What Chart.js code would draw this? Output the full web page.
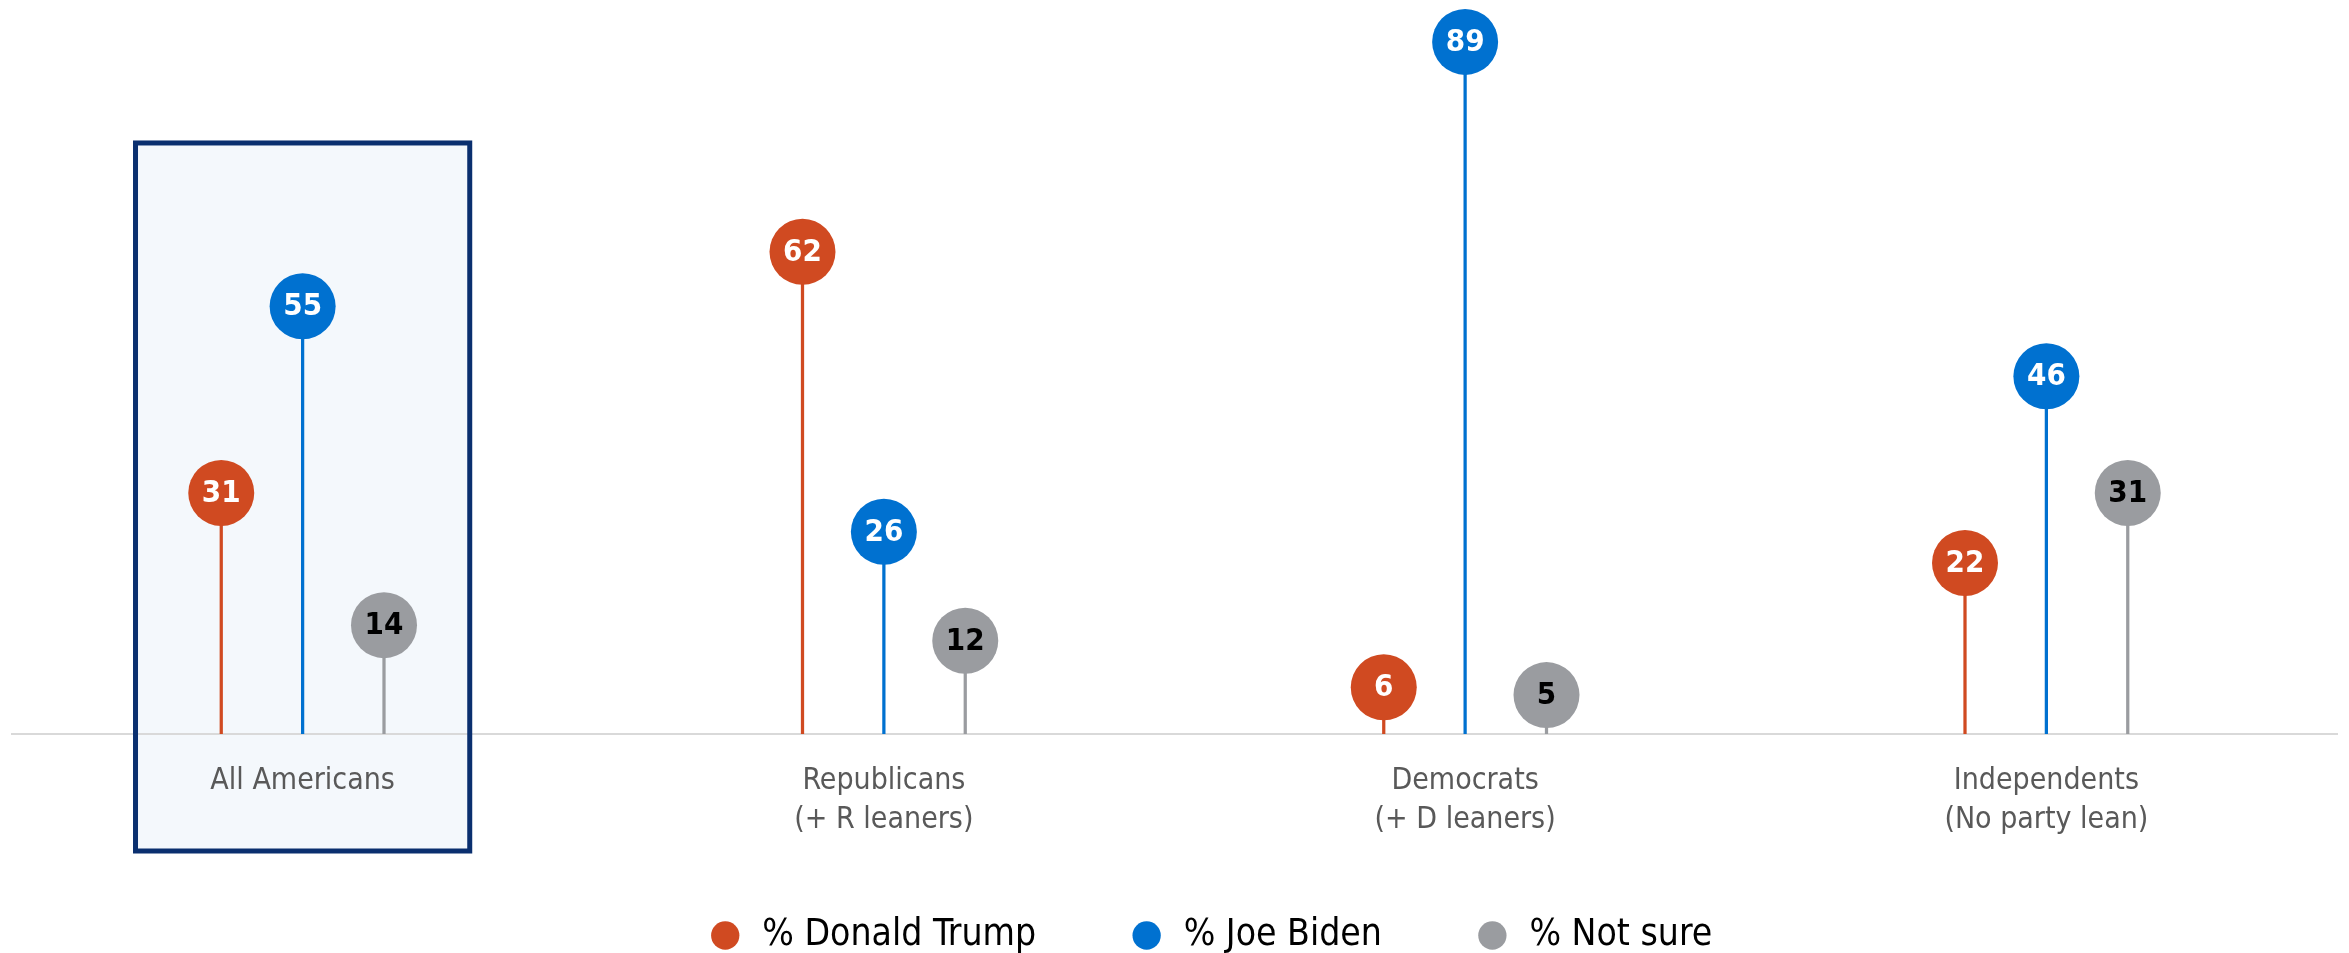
<!DOCTYPE html>
<html>
<head>
<meta charset="utf-8">
<script src="https://cdn.jsdelivr.net/npm/chart.js@4.4.0/dist/chart.umd.min.js"></script>
<style>
    html, body { margin: 0; padding: 0; background: #ffffff; }
    #grafico { width: 2349px; height: 953px; }
</style>
</head>
<body>
<div id="grafico"><canvas id="dashboardLollipop"></canvas></div>
<script>
var categorias = [["All Americans"], ["Republicans", "(+ R leaners)"], ["Democrats", "(+ D leaners)"], ["Independents", "(No party lean)"]];
var dadosTrump = [31, 62, 6, 22];
var dadosBiden = [55, 26, 89, 46];
var dadosNaoSei = [14, 12, 5, 31];

var corTrump = "#d04a21";
var corBiden = "#0071d0";
var corNaoSei = "#9a9ca0";

var fonte = "'DejaVu Sans Condensed', 'DejaVu Sans', Tahoma, sans-serif";
Chart.defaults.font.family = fonte;

// caixa de destaque atras de "All Americans"
var destaque = {
    id: "destaque",
    afterLayout: function (chart) {
        // legenda um pouco deslocada (direita e para cima), como no original
        chart.legend.left += 35;
        chart.legend.right += 35;
        chart.legend.top -= 19;
    },
    beforeDraw: function (chart) {
        var x = chart.scales.x, y = chart.scales.y, ctx = chart.ctx;
        var meio = x.getPixelForValue(0);
        var larg = (x.getPixelForValue(1) - meio) * 0.575;
        var topo = y.getPixelForValue(76);
        var base = chart.chartArea.bottom + 117;
        ctx.save();
        ctx.fillStyle = "#f4f8fc";
        ctx.fillRect(meio - larg / 2, topo, larg, base - topo);
        ctx.restore();
        chart.$caixa = [meio - larg / 2, topo, larg, base - topo];
    },
    afterDraw: function (chart) {
        var c = chart.$caixa, ctx = chart.ctx;
        ctx.save();
        ctx.strokeStyle = "#0a2f6f";
        ctx.lineWidth = 5;
        ctx.strokeRect(c[0], c[1], c[2], c[3]);
        ctx.restore();
    }
};

// bolinhas com o valor em cima de cada haste
var bolinhas = {
    id: "bolinhas",
    afterDatasetsDraw: function (chart) {
        var ctx = chart.ctx;
        chart.data.datasets.forEach(function (ds, i) {
            var meta = chart.getDatasetMeta(i);
            meta.data.forEach(function (barra, j) {
                ctx.save();
                ctx.beginPath();
                ctx.arc(barra.x, barra.y, 33, 0, Math.PI * 2);
                ctx.fillStyle = ds.backgroundColor;
                ctx.fill();
                ctx.fillStyle = ds.corTexto;
                ctx.font = "bold 31px " + fonte;
                ctx.textAlign = "center";
                ctx.textBaseline = "middle";
                ctx.fillText(ds.data[j], barra.x, barra.y + 1);
                ctx.restore();
            });
        });
    }
};

new Chart(document.getElementById("dashboardLollipop"), {
    type: "bar",
    data: {
        labels: categorias,
        datasets: [{
            label: "% Donald Trump",
            data: dadosTrump,
            backgroundColor: corTrump,
            corTexto: "#ffffff"
        },
        {
            label: "% Joe Biden",
            data: dadosBiden,
            backgroundColor: corBiden,
            corTexto: "#ffffff"
        },
        {
            label: "% Not sure",
            data: dadosNaoSei,
            backgroundColor: corNaoSei,
            corTexto: "#000000"
        }]
    },
    plugins: [destaque, bolinhas],
    options: {
        responsive: true,
        maintainAspectRatio: false,
        animation: false,
        categoryPercentage: 0.42,
        barPercentage: 0.04,
        layout: {
            padding: { left: 12, right: 12, top: 3, bottom: 0 }
        },
        scales: {
            x: {
                grid: { display: false, drawTicks: false },
                border: { color: "#d9d9d9", width: 2 },
                ticks: {
                    color: "#595959",
                    font: { size: 30, lineHeight: 1.3 },
                    padding: 28
                },
                afterFit: function (scale) {
                    scale.height = 110;
                }
            },
            y: {
                display: false,
                min: 0,
                max: 94
            }
        },
        plugins: {
            legend: {
                position: "bottom",
                maxHeight: 109,
                labels: {
                    usePointStyle: true,
                    pointStyle: "circle",
                    boxWidth: 37,
                    boxHeight: 20,
                    padding: 92,
                    color: "#000000",
                    font: { size: 37 }
                }
            },
            tooltip: { enabled: false }
        }
    }
});
</script>
</body>
</html>
